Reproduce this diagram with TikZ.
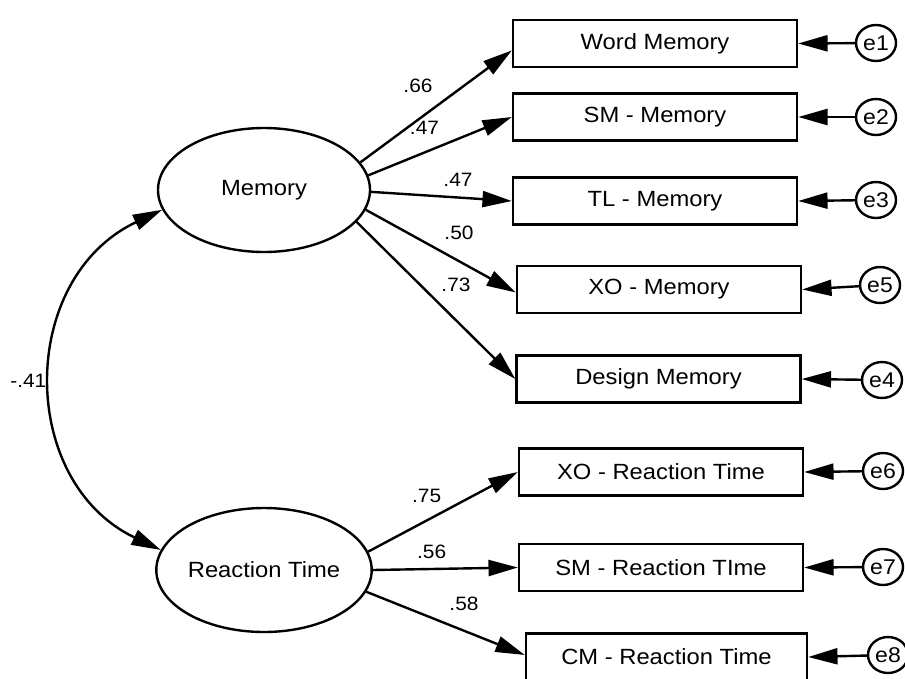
\documentclass[tikz,border=0pt]{standalone}
\usepackage{fontspec}
\setmainfont{Liberation Sans}[FakeStretch=1.08]
\usetikzlibrary{arrows.meta,calc,shapes.geometric}
\begin{document}
\begin{tikzpicture}[x=0.75pt,y=-0.75pt,
  line width=1.8pt,
  latent/.style={ellipse,draw,minimum width=159pt,minimum height=93pt,inner sep=0pt,
    font=\fontsize{16.5}{19}\selectfont},
  observed/.style={rectangle,draw,minimum width=213pt,minimum height=35.25pt,inner sep=0pt,
    font=\fontsize{16.5}{19}\selectfont},
  err/.style={ellipse,draw,minimum width=30pt,minimum height=27pt,inner sep=0pt,
    font=\fontsize{16}{19}\selectfont},
  coef/.style={inner sep=0pt,font=\fontsize{14.5}{17}\selectfont},
  load/.style={-{Triangle[length=22pt,width=12pt]}},
  cov/.style={{Triangle[length=22pt,width=12pt]}-{Triangle[length=22pt,width=12pt]}}
]
\useasboundingbox (0,0) rectangle (905,678);
\clip (0,0) rectangle (905,678);

% latent factors
\node[latent] (mem) at (264,190) {Memory};
\node[latent] (rt)  at (264,570) {Reaction Time};

% indicators
\node[observed] (wm)   at (655,43.5)  {Word Memory};
\node[observed] (smm)  at (655,117)   {SM - Memory};
\node[observed] (tlm)  at (655,201)   {TL - Memory};
\node[observed] (xom)  at (659,289.5) {XO - Memory};
\node[observed] (dm)   at (658.5,379) {Design Memory};
\node[observed] (xort) at (661,472)   {XO - Reaction Time};
\node[observed] (smrt) at (661,567.5) {SM - Reaction TIme};
\node[observed,minimum width=210.75pt] (cmrt) at (666.5,657) {CM - Reaction Time};

% error terms
\node[err] (e1) at (876,43)  {e1};
\node[err] (e2) at (876,117) {e2};
\node[err] (e3) at (876,200) {e3};
\node[err] (e5) at (880,285) {e5};
\node[err] (e4) at (882,380) {e4};
\node[err] (e6) at (883,471) {e6};
\node[err] (e7) at (883,567) {e7};
\node[err] (e8) at (888,655) {e8};

% factor loadings
\draw[load] (mem.16.4)  -- ($(wm.south west)!0.36!(wm.north west)$);
\draw[load] (mem.8.2)   -- (smm.west);
\draw[load] (mem.-1.4)  -- (tlm.west);
\draw[load] (mem.-11.4) -- ($(xom.west)+(0,3)$);
\draw[load] (mem.-19.9) -- (dm.west);
\draw[load] (rt.10.7)   -- (xort.west);
\draw[load] (rt.0)      -- (smrt.west);
\draw[load] (rt.-12.2)  -- ($(cmrt.west)+(0,-2)$);

% error paths
\foreach \e/\b in {e1/wm,e2/smm,e3/tlm,e5/xom,e4/dm,e6/xort,e7/smrt,e8/cmrt}
  \draw[load] (\e) -- (\b.east);

% factor covariance
\draw[cov] (mem.191) .. controls (17.5,278.3) and (17.5,481.7) .. (rt.169);

% coefficients
\node[coef] (c1) at (418,86)    {.66};
\node[coef] (c2) at (424.5,127.5) {.47};
\node[coef] (c3) at (458,180)   {.47};
\node[coef] (c4) at (459,233)   {.50};
\node[coef] (c5) at (456,285)   {.73};
\node[coef] (c6) at (426.7,495.8) {.75};
\node[coef] (c7) at (431.7,552) {.56};
\node[coef] (c8) at (464,604)   {.58};
\node[coef] (c9) at (28.3,381)  {-.41};
\end{tikzpicture}
\end{document}
